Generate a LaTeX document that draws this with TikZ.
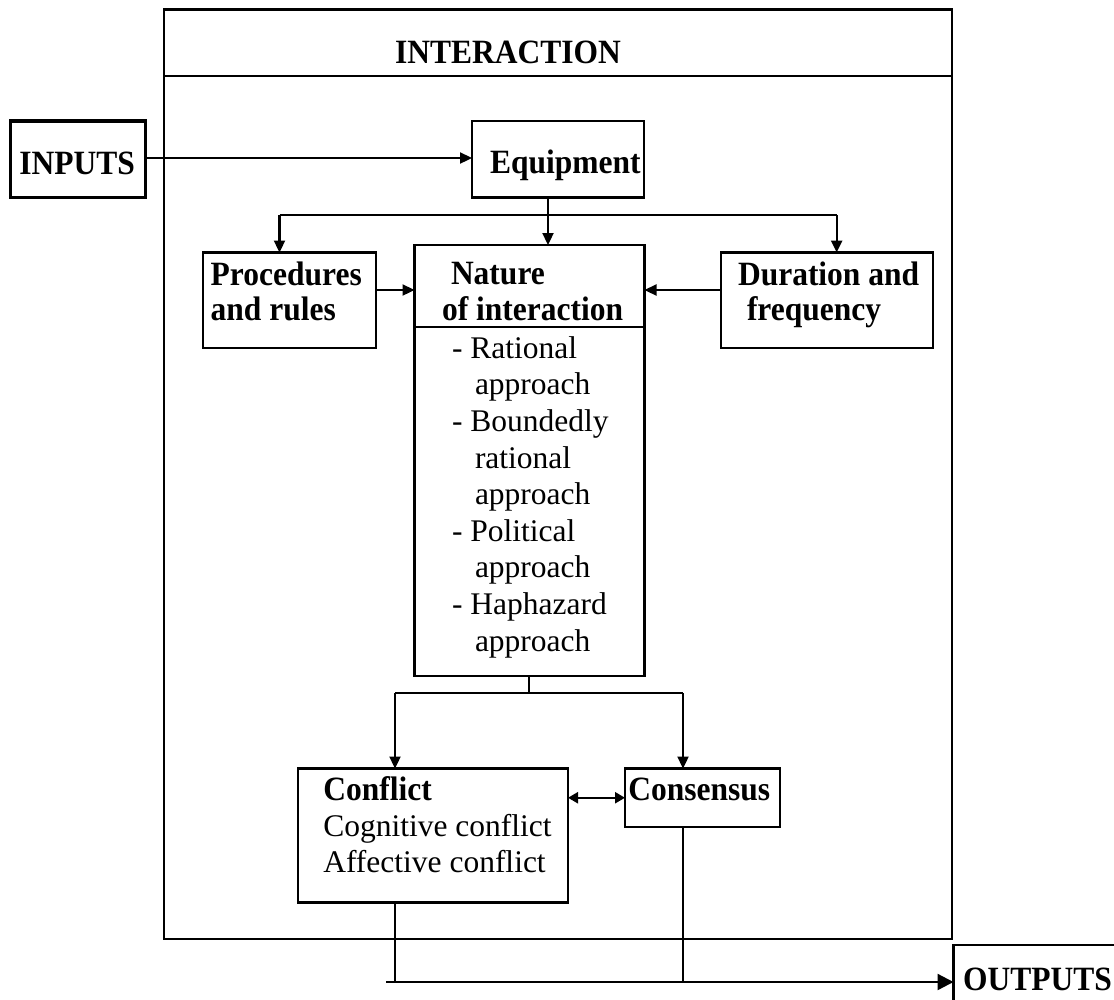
\documentclass[tikz,border=0pt]{standalone}
\usepackage{fontspec}
\setmainfont{Liberation Serif}
\usetikzlibrary{arrows.meta}
\newcommand{\tallb}[1]{\scalebox{1}[1.08]{#1}}
\begin{document}
\begin{tikzpicture}[x=1pt,y=-1pt,
  box/.style={draw, line width=2.8pt, inner sep=0pt, outer sep=0pt},
  txt/.style={inner sep=0pt, outer sep=0pt, anchor=base west, font=\fontsize{31.5}{36.6}\selectfont},
  btxt/.style={txt, font=\fontsize{31.5}{36.6}\selectfont\bfseries},
  conn/.style={line width=2.3pt},
  arr/.style={conn, -{Triangle[length=12pt,width=11pt]}},
  darr/.style={conn, {Triangle[length=10pt,width=11pt]}-{Triangle[length=10pt,width=11pt]}},
  bigarr/.style={conn, -{Triangle[length=16pt,width=16pt]}}]
\useasboundingbox (0,0) rectangle (1114,999);
\clip (0,0) rectangle (1114,999);
\fill[white] (0,0) rectangle (1114,999);

% boxes
\node[box, line width=2.4pt, minimum width=788pt, minimum height=929.5pt] (outer) at (558,474.25) {};
\node[box, line width=3.2pt, minimum width=135pt, minimum height=76.5pt] (inputs) at (78,159.25) {};
\node[box, line width=2.4pt, minimum width=172pt, minimum height=76.5pt] (equip) at (558,159.25) {};
\node[box, minimum width=173pt, minimum height=95.5pt] (proc) at (289.5,300.25) {};
\node[box, minimum width=230pt, minimum height=431pt] (nature) at (529.5,460.5) {};
\node[box, minimum width=212pt, minimum height=95.5pt] (dur) at (827,300.25) {};
\node[box, minimum width=270pt, minimum height=134pt] (conflict) at (433,835.5) {};
\node[box, minimum width=155pt, minimum height=58.5pt] (consensus) at (702.5,797.75) {};
\node[box, minimum width=171.5pt, minimum height=74pt] (outputs) at (1039.25,982) {};

% helper coordinates
\coordinate (titlesep) at (0,76);
\coordinate (natsep) at (0,326.7);
\coordinate (eqstem) at (548,215);
\coordinate (brL) at (279.5,215);
\coordinate (brR) at (836.7,215);
\coordinate (rowA) at (0,290);
\coordinate (cL) at (395,693);
\coordinate (cR) at (683,693);
\coordinate (outL) at (386,982);

% separators
\draw[line width=2.4pt] (outer.west |- titlesep) -- (outer.east |- titlesep);
\draw[line width=2pt] (nature.west |- natsep) -- (nature.east |- natsep);

% texts
\node[btxt, anchor=base] (tInter) at (508,63) {\tallb{INTERACTION}};
\node[btxt] (tInputs) at (19.3,174) {\tallb{INPUTS}};
\node[btxt] (tEquip) at (490,173) {\tallb{Equipment}};
\node[btxt] (tProc1) at (210.7,285) {\tallb{Procedures}};
\node[btxt] (tProc2) at (210.7,320) {\tallb{and rules}};
\node[btxt] (tNat1) at (451,284) {\tallb{Nature}};
\node[btxt] (tNat2) at (442,320) {\tallb{of interaction}};
\node[btxt] (tDur1) at (738,285) {\tallb{Duration and}};
\node[btxt] (tDur2) at (747,320) {\tallb{frequency}};
\node[txt] (l1) at (452,358.3) {- Rational};
\node[txt] (l2) at (475,394.9) {approach};
\node[txt] (l3) at (452,431.5) {- Boundedly};
\node[txt] (l4) at (475,468.1) {rational};
\node[txt] (l5) at (475,504.7) {approach};
\node[txt] (l6) at (452,541.3) {- Political};
\node[txt] (l7) at (475,577.9) {approach};
\node[txt] (l8) at (452,614.5) {- Haphazard};
\node[txt] (l9) at (475,651.1) {approach};
\node[btxt] (tConf) at (323.3,800) {\tallb{Conflict}};
\node[txt] (tCog) at (323.3,836) {Cognitive conflict};
\node[txt] (tAff) at (323.3,872) {Affective conflict};
\node[btxt] (tCons) at (628.3,800) {\tallb{Consensus}};
\node[btxt] (tOut) at (963,990) {\tallb{OUTPUTS}};

% connectors
\draw[arr] (inputs.east |- 0,158) -- (equip.west |- 0,158);
\draw[arr] (equip.south -| eqstem) -- (nature.north -| eqstem);
\draw[conn] (brL) -- (brR);
\draw[arr] (brL) -- (proc.north -| brL);
\draw[arr] (brR) -- (dur.north -| brR);
\draw[arr] (proc.east |- rowA) -- (nature.west |- rowA);
\draw[arr] (dur.west |- rowA) -- (nature.east |- rowA);
\draw[conn] (nature.south -| 529,0) -- (cL -| 529,0);
\draw[conn] (cL) -- (cR);
\draw[arr] (cL) -- (conflict.north -| cL);
\draw[arr] (cR) -- (consensus.north -| cR);
\draw[darr] (conflict.east |- consensus.west) -- (consensus.west);
\draw[conn] (conflict.south -| cL) -- (cL |- outL);
\draw[conn] (consensus.south -| cR) -- (cR |- outL);
\draw[bigarr] (outL) -- (outputs.west |- outL);
\end{tikzpicture}
\end{document}
